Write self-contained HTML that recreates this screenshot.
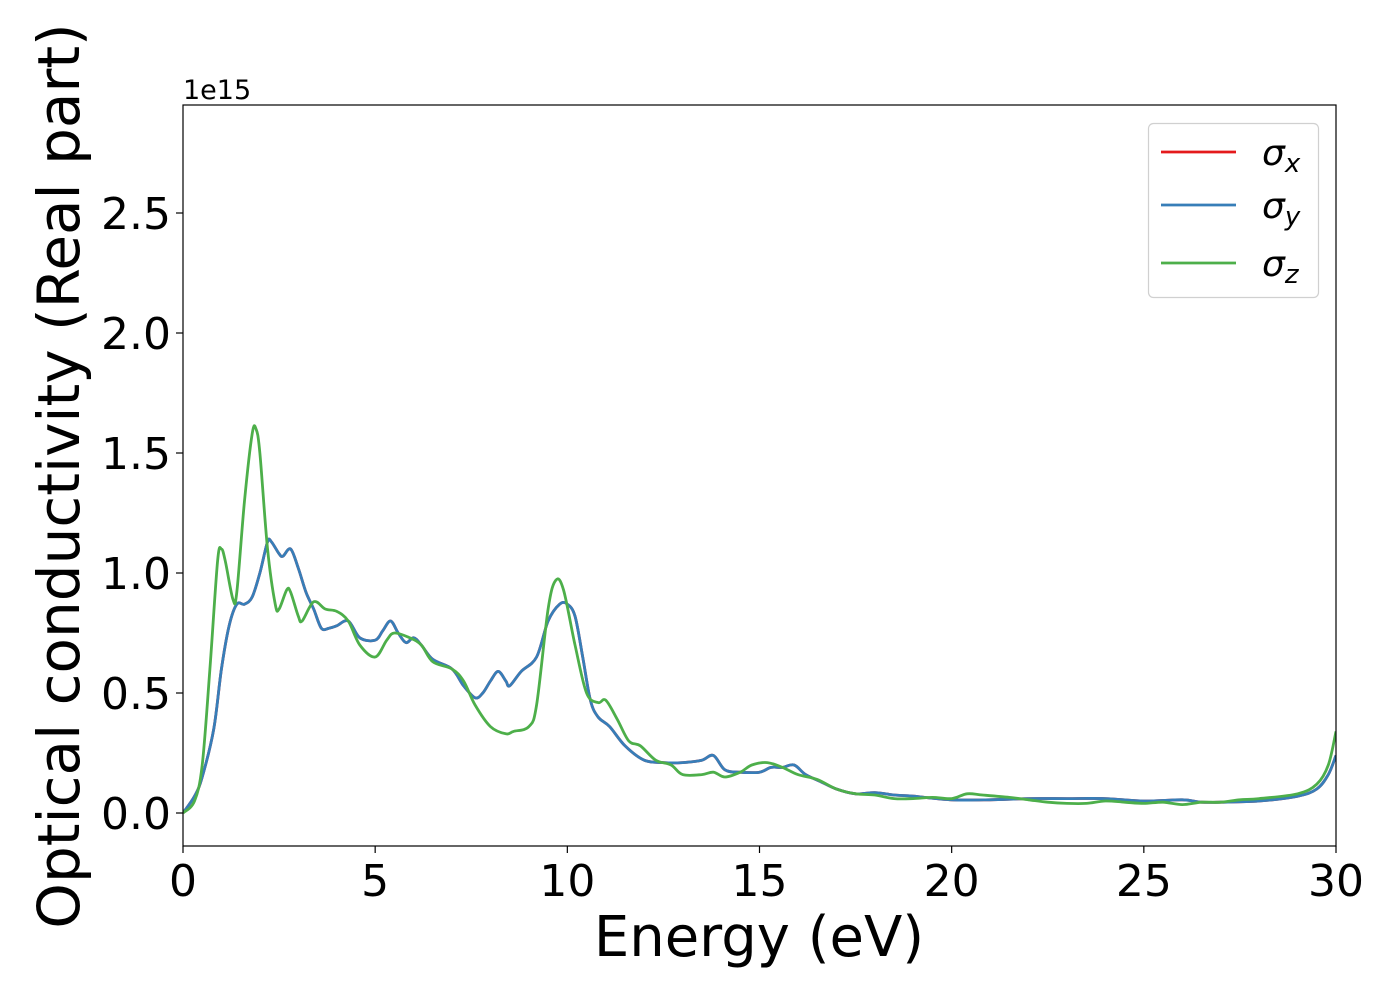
<!DOCTYPE html>
<html><head><meta charset="utf-8"><style>
html,body{margin:0;padding:0;background:#fff;}
svg text{font-family:"DejaVu Sans","Liberation Sans",sans-serif;}
</style></head><body>
<svg id="chart" width="1400" height="1000" viewBox="0 0 1400 1000" xmlns="http://www.w3.org/2000/svg">
<rect width="1400" height="1000" fill="#fff"/>
<g id="plot"></g>
<g id="axes"></g>
<text x="183" y="99" font-size="27">1e15</text>
<text x="759" y="956" font-size="56" text-anchor="middle">Energy (eV)</text>
<text x="0" y="0" font-size="58" text-anchor="middle" transform="translate(79,476) rotate(-90)">Optical conductivity (Real part)</text>
<g>
<rect x="1148.5" y="123.5" width="170" height="174" rx="5" fill="#fff" fill-opacity="0.8" stroke="#d0d0d0" stroke-width="1.2"/>
<line x1="1161" y1="152" x2="1236" y2="152" stroke="#e41a1c" stroke-width="2.8"/>
<line x1="1161" y1="205" x2="1236" y2="205" stroke="#377eb8" stroke-width="2.8"/>
<line x1="1161" y1="263" x2="1236" y2="263" stroke="#4daf4a" stroke-width="2.8"/>
<text x="1262" y="165" font-size="36" font-style="italic">σ<tspan font-size="26" dy="7">x</tspan></text>
<text x="1262" y="218" font-size="36" font-style="italic">σ<tspan font-size="26" dy="7">y</tspan></text>
<text x="1262" y="276" font-size="36" font-style="italic">σ<tspan font-size="26" dy="7">z</tspan></text>
</g>
</svg>
<script>
const energyXY = [0,0.3,0.5,0.8,1.0,1.2,1.4,1.6,1.8,2.0,2.2,2.3,2.5,2.6,2.8,3.0,3.2,3.4,3.6,3.8,4.0,4.3,4.6,5.0,5.2,5.4,5.6,5.8,6.0,6.2,6.5,7.0,7.3,7.6,7.8,8.0,8.2,8.4,8.5,8.8,9.2,9.5,9.8,10.0,10.2,10.4,10.6,10.8,11.1,11.5,12,12.5,13,13.5,13.8,14.1,14.5,15,15.3,15.6,15.9,16.2,16.6,17,17.5,18,18.5,19,20,21,22,23,24,25,26,26.5,27,28,29,29.5,29.8,30];
const sigmaXY = [0,0.07,0.15,0.35,0.6,0.78,0.87,0.87,0.9,1.0,1.13,1.13,1.08,1.07,1.1,1.02,0.92,0.85,0.77,0.77,0.78,0.8,0.73,0.72,0.76,0.8,0.75,0.71,0.73,0.7,0.64,0.6,0.53,0.48,0.5,0.55,0.59,0.55,0.53,0.59,0.65,0.8,0.87,0.87,0.82,0.65,0.47,0.4,0.36,0.28,0.22,0.21,0.21,0.22,0.24,0.18,0.17,0.17,0.19,0.19,0.2,0.16,0.13,0.1,0.08,0.085,0.075,0.07,0.055,0.055,0.06,0.06,0.06,0.05,0.055,0.045,0.045,0.05,0.07,0.1,0.16,0.24];
const energyZ = [0,0.3,0.5,0.7,0.9,1.0,1.1,1.3,1.4,1.6,1.8,1.9,2.0,2.2,2.4,2.5,2.7,2.8,3.0,3.1,3.4,3.7,4.0,4.3,4.6,5.0,5.3,5.5,5.9,6.2,6.5,7.0,7.3,7.6,8.0,8.4,8.6,9.0,9.2,9.5,9.7,9.9,10.2,10.5,10.8,11,11.3,11.6,11.9,12.3,12.7,13,13.5,13.8,14.1,14.5,14.8,15.2,15.6,16,16.5,17,17.5,18,18.5,19,19.5,20,20.4,20.8,21.5,22,22.5,23,23.5,24,24.5,25,25.5,26,26.5,27,27.5,28,29,29.5,29.8,30];
const sigmaZ = [0,0.05,0.2,0.6,1.05,1.1,1.05,0.89,0.92,1.3,1.58,1.6,1.5,1.1,0.87,0.85,0.93,0.92,0.82,0.8,0.88,0.85,0.84,0.8,0.7,0.65,0.72,0.75,0.73,0.7,0.63,0.6,0.55,0.45,0.36,0.33,0.34,0.36,0.45,0.85,0.97,0.93,0.7,0.5,0.46,0.47,0.39,0.3,0.28,0.22,0.2,0.16,0.16,0.17,0.15,0.17,0.2,0.21,0.19,0.16,0.14,0.1,0.08,0.075,0.06,0.06,0.065,0.06,0.08,0.075,0.065,0.055,0.045,0.04,0.04,0.05,0.045,0.04,0.045,0.035,0.045,0.045,0.055,0.06,0.08,0.12,0.2,0.34];
const xTicks = [0,5,10,15,20,25,30];
const yTicks = [0,0.5,1.0,1.5,2.0,2.5];
const yTickLabels = ["0.0","0.5","1.0","1.5","2.0","2.5"];

const L=183,R=1336,T=105,B=846;
const xMin=0,xMax=30,yMin=-0.1375,yMax=2.95;
const sx=v=>L+(v-xMin)/(xMax-xMin)*(R-L);
const sy=v=>B-(v-yMin)/(yMax-yMin)*(B-T);
const NS="http://www.w3.org/2000/svg";
function mk(tag,attrs,parent){const e=document.createElementNS(NS,tag);for(const k in attrs)e.setAttribute(k,attrs[k]);parent.appendChild(e);return e;}
function smoothPath(xs,ys){
  const p=xs.map((x,i)=>[sx(x),sy(ys[i])]);
  let d="M"+p[0][0]+","+p[0][1];
  for(let i=0;i<p.length-1;i++){
    const p0=p[Math.max(0,i-1)],p1=p[i],p2=p[i+1],p3=p[Math.min(p.length-1,i+2)];
    const c1=[p1[0]+(p2[0]-p0[0])/6,p1[1]+(p2[1]-p0[1])/6];
    const c2=[p2[0]-(p3[0]-p1[0])/6,p2[1]-(p3[1]-p1[1])/6];
    d+=" C"+c1[0]+","+c1[1]+" "+c2[0]+","+c2[1]+" "+p2[0]+","+p2[1];
  }
  return d;
}
const plot=document.getElementById('plot');
const axes=document.getElementById('axes');
const defs=mk('defs',{},plot);
const cp=mk('clipPath',{id:'clip'},defs);
mk('rect',{x:L,y:T,width:R-L,height:B-T},cp);
const series=[["sigma-x-line","#e41a1c",energyXY,sigmaXY],["sigma-y-line","#377eb8",energyXY,sigmaXY],["sigma-z-line","#4daf4a",energyZ,sigmaZ]];
series.forEach(s=>{
  const el=mk('path',{d:smoothPath(s[2],s[3]),fill:"none",stroke:s[1],"stroke-width":2.8,"clip-path":"url(#clip)"},plot);
  
  
});
const frame=mk('rect',{x:L,y:T,width:R-L,height:B-T,fill:"none",stroke:"#000","stroke-width":1.2},axes);


xTicks.forEach(t=>{
  const tk=mk('line',{x1:sx(t),x2:sx(t),y1:B,y2:B+7,stroke:"#000","stroke-width":1.2},axes);
  
  
  const tl=mk('text',{x:sx(t),y:B+50,"font-size":44,"text-anchor":"middle"},axes);
  tl.textContent=t;
  
  
});
yTicks.forEach((t,i)=>{
  const tk=mk('line',{x1:L-7,x2:L,y1:sy(t),y2:sy(t),stroke:"#000","stroke-width":1.2},axes);
  
  
  const tl=mk('text',{x:L-12,y:sy(t)+16,"font-size":44,"text-anchor":"end"},axes);
  tl.textContent=yTickLabels[i];
  
  
});
</script>
</body></html>
